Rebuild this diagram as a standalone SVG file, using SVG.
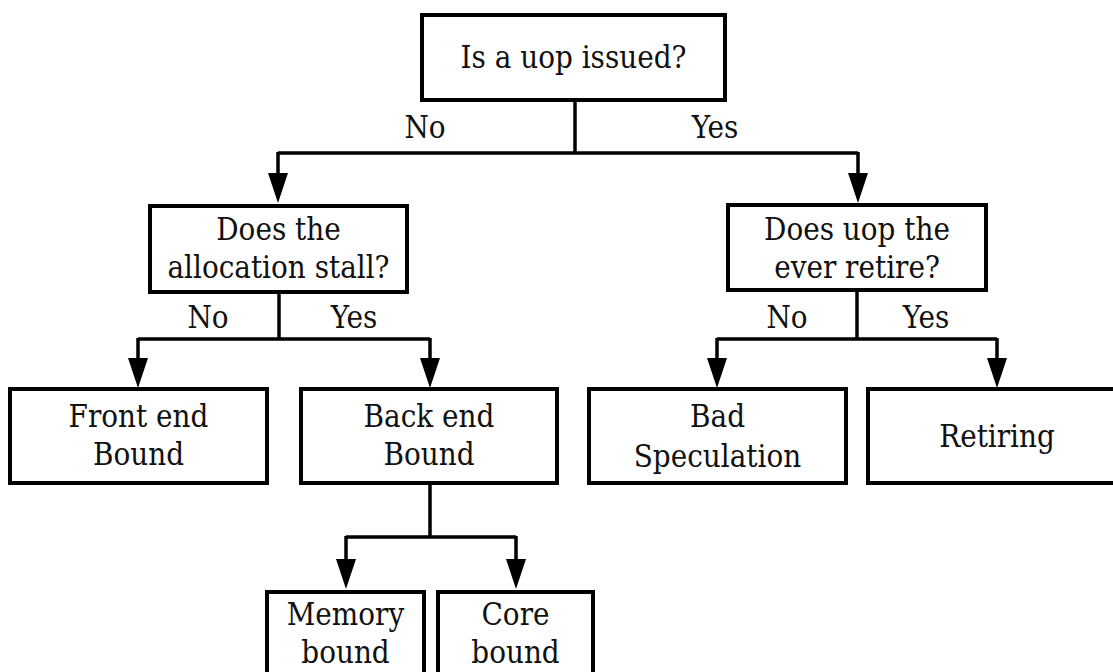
<svg xmlns="http://www.w3.org/2000/svg" width="1113" height="672" viewBox="0 0 1113 672">
<style>
.box{fill:#fff;stroke:#000;stroke-width:4}
.c{fill:none;stroke:#000;stroke-width:3.5}
text{font-family:"DejaVu Serif Condensed","DejaVu Serif","Liberation Serif",serif;font-stretch:condensed;font-size:31px;fill:#111;text-anchor:middle}
</style>
<defs>
<marker id="ah" markerUnits="userSpaceOnUse" markerWidth="30" markerHeight="20" refX="20" refY="10" orient="auto" viewBox="0 0 30 20">
<path d="M0,0 L30,10 L0,20 Z" fill="#000"/>
</marker>
</defs>
<rect width="1113" height="672" fill="#fff"/>
<g id="connectors">
<path class="c" d="M575,100 V153 M278,153 H858"/>
<path class="c" d="M278,152 V193" marker-end="url(#ah)"/>
<path class="c" d="M858,152 V193" marker-end="url(#ah)"/>
<path class="c" d="M279,292 V339 M138,339 H430"/>
<path class="c" d="M138,338 V378" marker-end="url(#ah)"/>
<path class="c" d="M430,338 V378" marker-end="url(#ah)"/>
<path class="c" d="M857,290 V339 M717,339 H997"/>
<path class="c" d="M717,338 V378" marker-end="url(#ah)"/>
<path class="c" d="M997,338 V378" marker-end="url(#ah)"/>
<path class="c" d="M430,483 V537 M346,537 H516"/>
<path class="c" d="M346,536 V579" marker-end="url(#ah)"/>
<path class="c" d="M516,536 V579" marker-end="url(#ah)"/>
<text x="425" y="138">No</text>
<text x="715" y="138">Yes</text>
<text x="208" y="328">No</text>
<text x="354" y="328">Yes</text>
<text x="787" y="328">No</text>
<text x="926" y="328">Yes</text>
</g>
<g id="n-issued">
<rect class="box" x="422" y="15" width="303" height="85"/>
<text x="573.5" y="68">Is a uop issued?</text>
</g>
<g id="n-alloc">
<rect class="box" x="150" y="206" width="257" height="86"/>
<text x="278.5" y="240">Does the</text>
<text x="278.5" y="278">allocation stall?</text>
</g>
<g id="n-retire">
<rect class="box" x="728" y="205" width="258" height="85"/>
<text x="857" y="240">Does uop the</text>
<text x="857" y="278">ever retire?</text>
</g>
<g id="n-frontend">
<rect class="box" x="10" y="389" width="257" height="94"/>
<text x="138.5" y="427">Front end</text>
<text x="138.5" y="465">Bound</text>
</g>
<g id="n-backend">
<rect class="box" x="301" y="389" width="256" height="94"/>
<text x="429" y="427">Back end</text>
<text x="429" y="465">Bound</text>
</g>
<g id="n-badspec">
<rect class="box" x="589" y="389" width="257" height="94"/>
<text x="717.5" y="427">Bad</text>
<text x="717.5" y="467">Speculation</text>
</g>
<g id="n-retiring">
<rect class="box" x="868" y="389" width="258" height="94"/>
<text x="997" y="447">Retiring</text>
</g>
<g id="n-memory">
<rect class="box" x="267" y="592" width="157" height="100"/>
<text x="345.5" y="625">Memory</text>
<text x="345.5" y="663">bound</text>
</g>
<g id="n-core">
<rect class="box" x="438" y="592" width="155" height="100"/>
<text x="515.5" y="625">Core</text>
<text x="515.5" y="663">bound</text>
</g>
</svg>
